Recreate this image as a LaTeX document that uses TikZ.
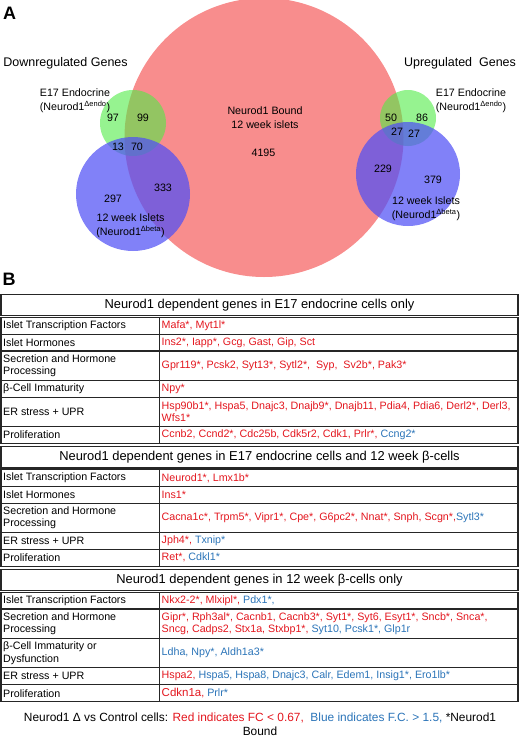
\documentclass[tikz,border=0pt]{standalone}
\usepackage{fontspec}
\setmainfont{Liberation Sans}
\usepackage{tikz}
\definecolor{BoundPink}{HTML}{F88D8D}
\definecolor{EndoGreen}{RGB}{80,235,70}
\definecolor{BetaBlue}{RGB}{80,80,245}
\definecolor{DownRed}{HTML}{E3161E}
\definecolor{UpBlue}{HTML}{2B74B8}
\newcommand{\upreg}[1]{\textcolor{UpBlue}{#1}}
% one table row: top, bottom, name, category, genes
\newcommand{\generow}[5]{%
  \draw[gridline] (1,#1) rectangle (518,#2);
  \draw[gridline] (159.5,#1) -- (159.5,#2);
  \node[category] (#3) at (3,{(#1+#2)/2}) {#4};
  \node[genes] (#3-genes) at (161.5,{(#1+#2)/2}) {#5};
}

\begin{document}
\begin{tikzpicture}[x=1pt, y=-1pt,
  panel/.style={font=\fontsize{18}{18}\selectfont\bfseries, inner sep=0pt},
  setlabel/.style={font=\fontsize{12.5}{14}\selectfont, inner sep=0pt},
  venntext/.style={font=\fontsize{10.7}{13.5}\selectfont, align=center, inner sep=0pt},
  gridline/.style={line width=1.2pt, black!85},
  titlebox/.style={draw=black!85, line width=1.2pt, minimum width=517pt,
    minimum height=21.5pt, inner sep=0pt, font=\fontsize{12.9}{15}\selectfont},
  category/.style={anchor=west, align=left, inner sep=0pt,
    font=\fontsize{10.7}{12.5}\selectfont},
  genes/.style={category, text=DownRed},
  legend/.style={align=center, inner sep=0pt, font=\fontsize{11.9}{14}\selectfont}]
  \useasboundingbox (0,0) rectangle (520,737);

  % panel A
  \node[panel] (panelA) at (9.5,13) {A};
  \fill[BoundPink] (264,137.5) circle (139.5pt);
  \fill[EndoGreen, opacity=0.6] (133,123) circle (33pt);
  \fill[BetaBlue, opacity=0.72] (133,194) circle (57pt);
  \fill[EndoGreen, opacity=0.6] (408,118) circle (28pt);
  \fill[BetaBlue, opacity=0.72] (408,174) circle (52pt);

  \node[setlabel] (downlabel) at (65.5,63) {Downregulated Genes};
  \node[setlabel] (uplabel) at (460,63) {Upregulated \ Genes};
  \node[venntext] (endodown) at (75,100.5) {E17 Endocrine\\(Neurod1\textsuperscript{Δendo})};
  \node[venntext] (endoup) at (471,100.5) {E17 Endocrine\\(Neurod1\textsuperscript{Δendo})};
  \node[venntext] (betadown) at (130.5,225.5) {12 week Islets\\(Neurod1\textsuperscript{Δbeta})};
  \node[venntext] (betaup) at (426,208.5) {12 week Islets\\(Neurod1\textsuperscript{Δbeta})};
  \node[venntext] (bound) at (265,117.5) {Neurod1 Bound\\12 week islets};
  \node[venntext] (boundonly) at (263.5,153) {4195};

  \node[venntext] (down97) at (113,118) {97};
  \node[venntext] (down99) at (143,118) {99};
  \node[venntext] (down13) at (118,147) {13};
  \node[venntext] (down70) at (137,147) {70};
  \node[venntext] (down297) at (113,199) {297};
  \node[venntext] (down333) at (163,188) {333};
  \node[venntext] (up50) at (391,118) {50};
  \node[venntext] (up86) at (422,118) {86};
  \node[venntext] (up27a) at (397,132) {27};
  \node[venntext] (up27b) at (414,134) {27};
  \node[venntext] (up229) at (383,169) {229};
  \node[venntext] (up379) at (433,180) {379};

  % panel B
  \node[panel] (panelB) at (9,279) {B};

  \node[titlebox] (endoonly) at (259.5,305.05) {Neurod1 dependent genes in E17 endocrine cells only};
  \generow{317.4}{334.2}{e-tf}{Islet Transcription Factors}{Mafa*, Myt1l*}
  \generow{334.2}{351.0}{e-horm}{Islet Hormones}{Ins2*, Iapp*, Gcg, Gast, Gip, Sct}
  \generow{351.0}{380.4}{e-secr}{Secretion and Hormone\\Processing}{Gpr119*, Pcsk2, Syt13*, Sytl2*, \ Syp, \ Sv2b*, Pak3*}
  \generow{380.4}{397.2}{e-imm}{β-Cell Immaturity}{Npy*}
  \generow{397.2}{426.6}{e-er}{ER stress + UPR}{Hsp90b1*, Hspa5, Dnajc3, Dnajb9*, Dnajb11, Pdia4, Pdia6, Derl2*, Derl3,\\Wfs1*}
  \generow{426.6}{443.4}{e-prol}{Proliferation}{Ccnb2, Ccnd2*, Cdc25b, Cdk5r2, Cdk1, Prlr*, \upreg{Ccng2*}}

  \node[titlebox] (endobeta) at (259.5,457.15) {Neurod1 dependent genes in E17 endocrine cells and 12 week β-cells};
  \generow{469.5}{486.3}{eb-tf}{Islet Transcription Factors}{Neurod1*, Lmx1b*}
  \generow{486.3}{503.1}{eb-horm}{Islet Hormones}{Ins1*}
  \generow{503.1}{532.5}{eb-secr}{Secretion and Hormone\\Processing}{Cacna1c*, Trpm5*, Vipr1*, Cpe*, G6pc2*, Nnat*, Snph, Scgn*,\upreg{Sytl3*}}
  \generow{532.5}{549.3}{eb-er}{ER stress + UPR}{Jph4*, \upreg{Txnip*}}
  \generow{549.3}{566.1}{eb-prol}{Proliferation}{Ret*, \upreg{Cdkl1*}}

  \node[titlebox] (betaonly) at (259.5,579.85) {Neurod1 dependent genes in 12 week β-cells only};
  \generow{592.2}{609.0}{b-tf}{Islet Transcription Factors}{Nkx2-2*, Mlxipl*, \upreg{Pdx1*,}}
  \generow{609.0}{638.4}{b-secr}{Secretion and Hormone\\Processing}{Gipr*, Rph3al*, Cacnb1, Cacnb3*, Syt1*, Syt6, Esyt1*, Sncb*, Snca*,\\Sncg, Cadps2, Stx1a, Stxbp1*, \upreg{Syt10, Pcsk1*, Glp1r}}
  \generow{638.4}{667.8}{b-imm}{β-Cell Immaturity or\\Dysfunction}{\upreg{Ldha, Npy*, Aldh1a3*}}
  \generow{667.8}{684.6}{b-er}{ER stress + UPR}{Hspa2, \upreg{Hspa5, Hspa8, Dnajc3, Calr, Edem1, Insig1*, Ero1lb*}}
  \generow{684.6}{701.8}{b-prol}{Proliferation}{{\fontsize{11.5}{12.5}\selectfont Cdkn1a}, \upreg{Prlr*}}

  \node[legend] (key) at (260,724.5) {Neurod1 Δ vs Control cells: \textcolor{DownRed}{Red indicates FC < 0.67,} \ \upreg{Blue indicates F.C. > 1.5,} *Neurod1\\Bound};
\end{tikzpicture}
\end{document}
